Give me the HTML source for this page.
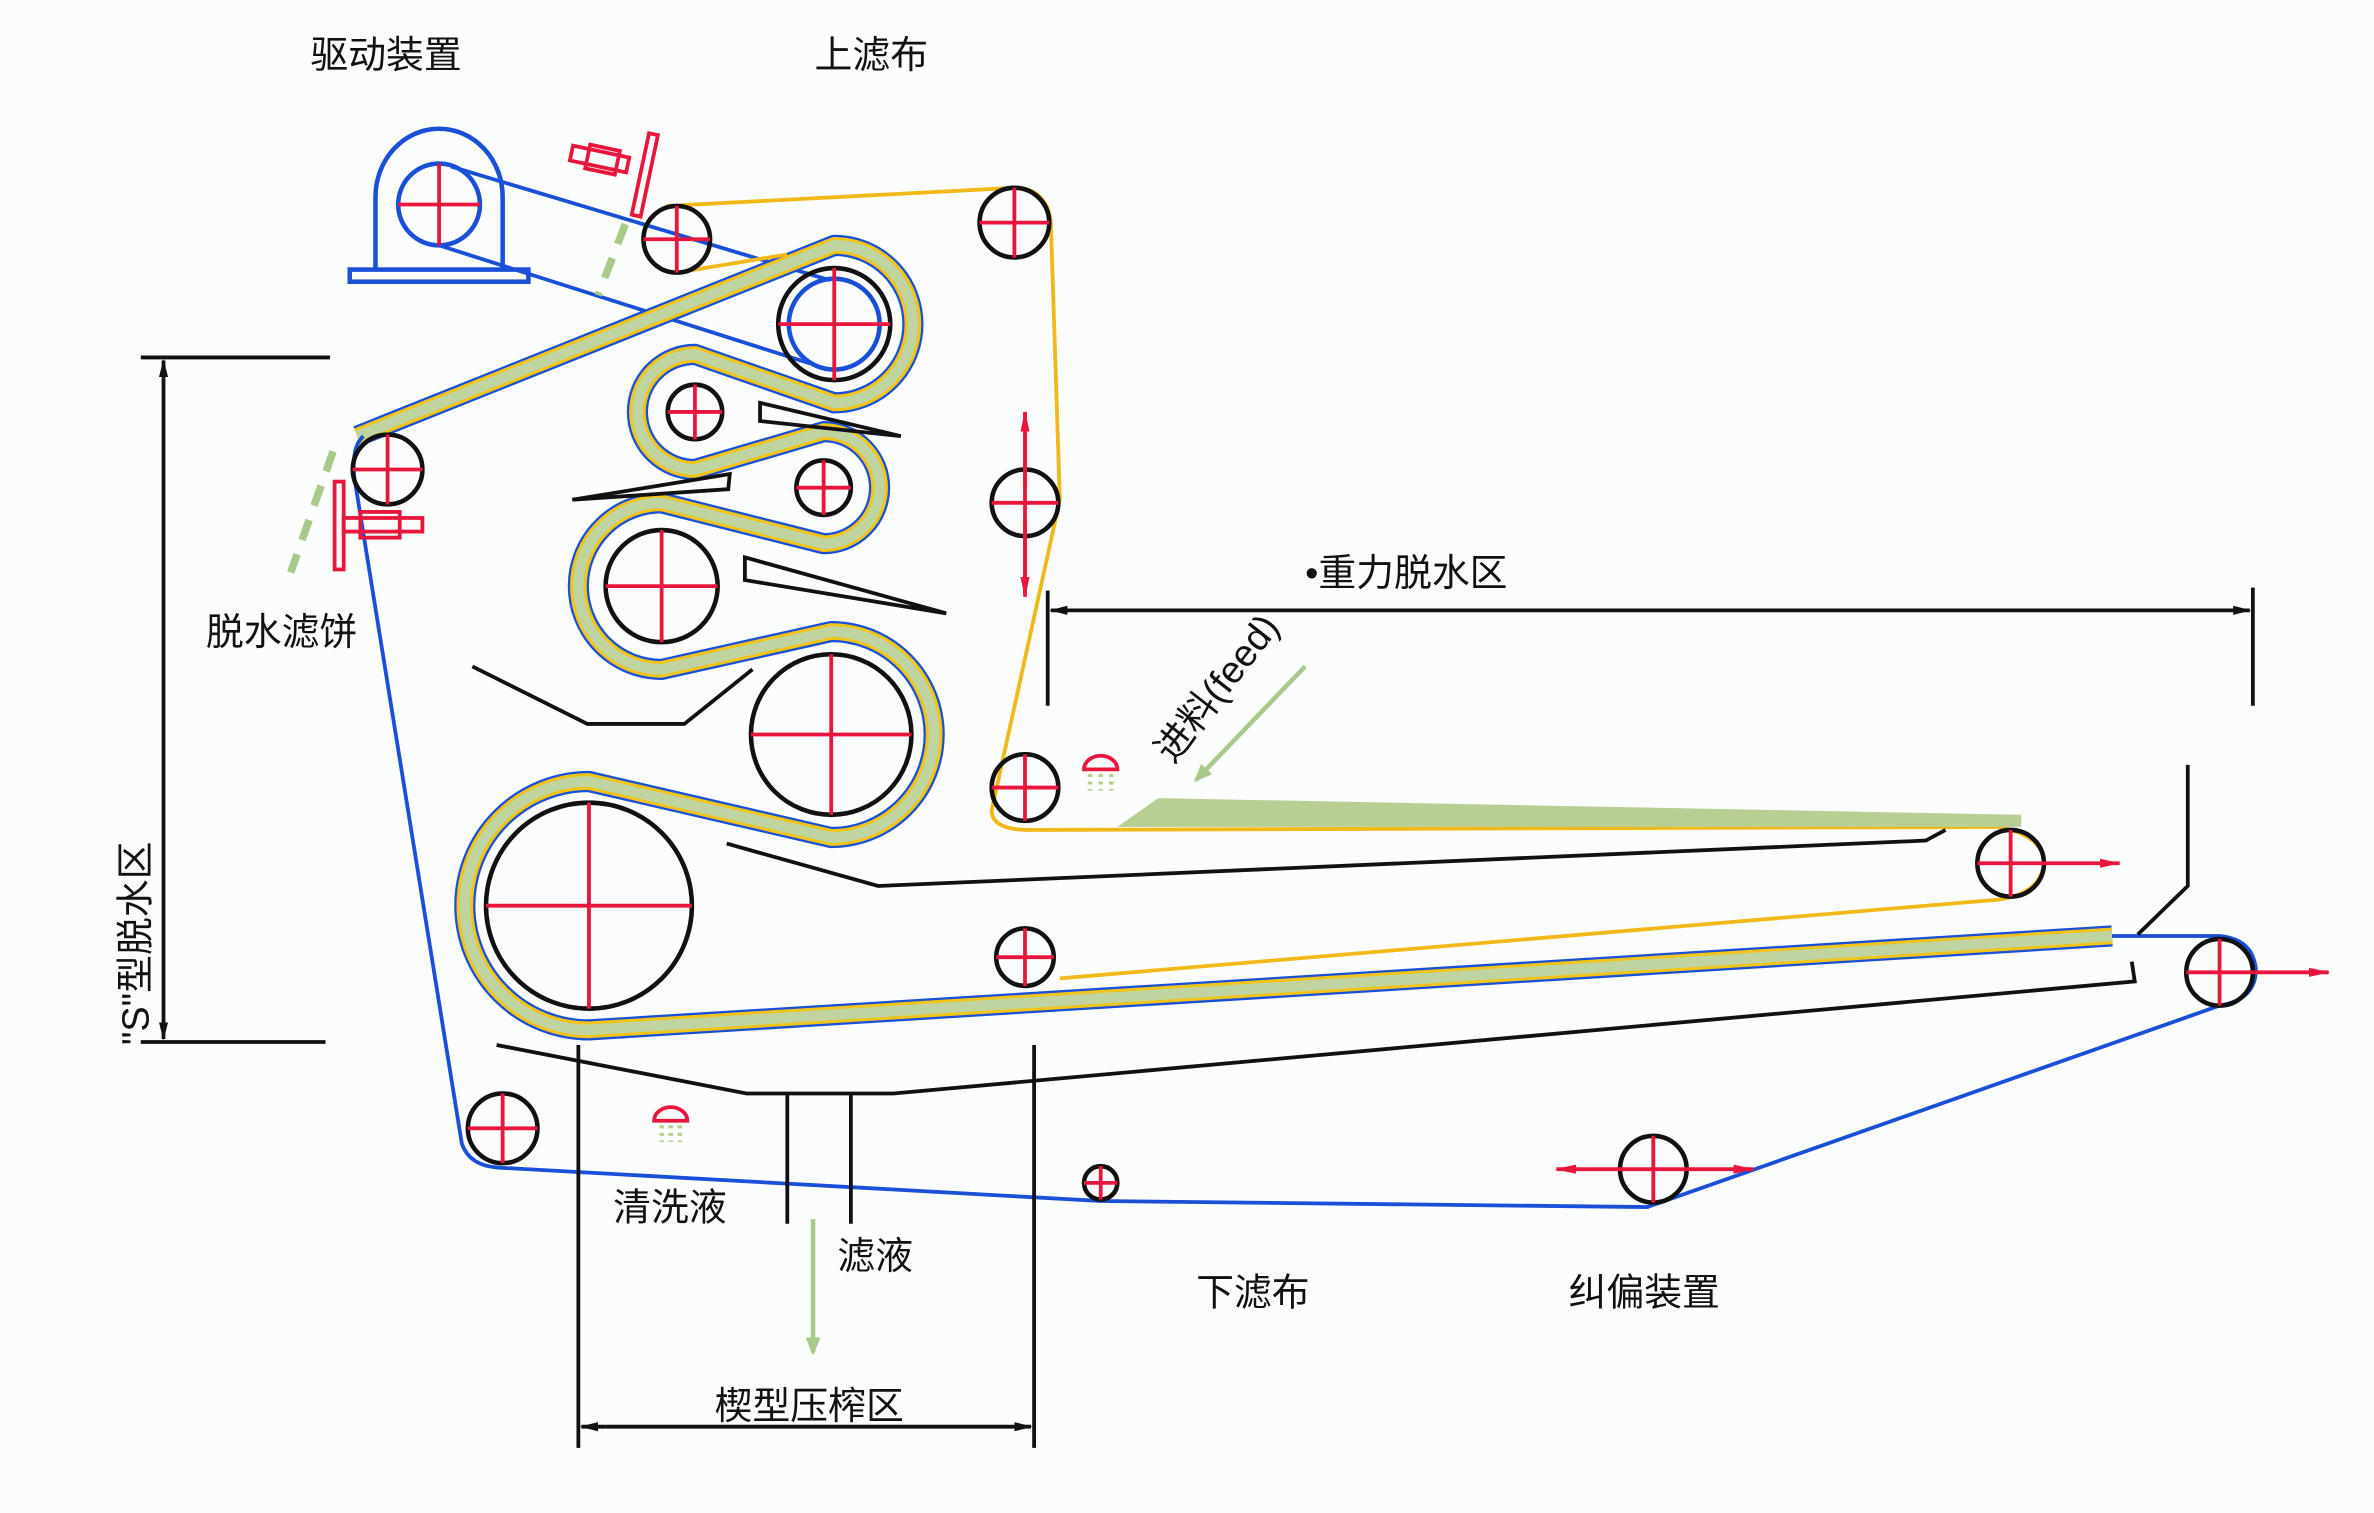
<!DOCTYPE html>
<html><head><meta charset="utf-8"><style>
html,body{margin:0;padding:0;background:#fbfcfc;}
svg{display:block}
text{font-family:"Liberation Sans","Noto Sans CJK SC","WenQuanYi Zen Hei",sans-serif;font-size:25px;fill:#111}
</style></head><body>
<svg width="2374" height="1513" viewBox="0 0 1568 999" preserveAspectRatio="none" xmlns="http://www.w3.org/2000/svg">
<defs>
<marker id="ab" markerWidth="12" markerHeight="8" refX="11" refY="4" orient="auto" markerUnits="userSpaceOnUse"><path d="M0,1 L12,4 L0,7 Z" fill="#111"/></marker>
<marker id="ar" markerWidth="14" markerHeight="8" refX="13" refY="4" orient="auto" markerUnits="userSpaceOnUse"><path d="M0,1 L14,4 L0,7 Z" fill="#e8163c"/></marker>
<marker id="ag" markerWidth="12" markerHeight="12" refX="10" refY="6" orient="auto" markerUnits="userSpaceOnUse"><path d="M0,1 L12,6 L0,11 Z" fill="#a9c98a"/></marker>
</defs>
<rect width="1568" height="999" fill="#fbfcfc"/>

<path d="M248,178 L248,130 A42,45 0 0 1 332,130 L332,178" fill="none" stroke="#1a4fd8" stroke-width="3"/>
<rect x="231" y="178" width="118" height="8" fill="none" stroke="#1a4fd8" stroke-width="3"/>
<circle cx="290" cy="135" r="27" fill="none" stroke="#1a4fd8" stroke-width="3"/>
<line x1="298" y1="110" x2="548" y2="185" stroke="#1a4fd8" stroke-width="2.5"/>
<line x1="290" y1="162" x2="535" y2="240" stroke="#1a4fd8" stroke-width="2.5"/>

<path d="M236,288 L551,162 A52,52 0 0 1 551,266 L459,234 A38,38 0 0 0 459,310 L544,285 A37,37 0 0 1 544,359 L437,332 A55,55 0 0 0 437,442 L549,417 A68,68 0 0 1 549,553 L389,516 A82,82 0 0 0 389,680 L1395,618" fill="none" stroke="#1a4fd8" stroke-width="14" stroke-linejoin="round"/>
<path d="M236,288 L551,162 A52,52 0 0 1 551,266 L459,234 A38,38 0 0 0 459,310 L544,285 A37,37 0 0 1 544,359 L437,332 A55,55 0 0 0 437,442 L549,417 A68,68 0 0 1 549,553 L389,516 A82,82 0 0 0 389,680 L1395,618" fill="none" stroke="#f0c419" stroke-width="11" stroke-linejoin="round"/>
<path d="M236,288 L551,162 A52,52 0 0 1 551,266 L459,234 A38,38 0 0 0 459,310 L544,285 A37,37 0 0 1 544,359 L437,332 A55,55 0 0 0 437,442 L549,417 A68,68 0 0 1 549,553 L389,516 A82,82 0 0 0 389,680 L1395,618" fill="none" stroke="#bfd4a0" stroke-width="7" stroke-linejoin="round"/>

<path d="M440,136 L670,124 Q690,124 694,145 L700,330 L655,535 Q655,548 680,548 L1320,546 Q1350,552 1350,570 Q1348,590 1320,594 L700,646" fill="none" stroke="#f0b818" stroke-width="2.5"/>
<path d="M447,136 A22,22 0 0 0 447,180 L520,168" fill="none" stroke="#f0b818" stroke-width="2.5"/>
<path d="M738,546 L765,527 L1335,538 L1335,546 Z" fill="#b8cf94"/>

<path d="M240,288 Q232,295 234,315 L305,755 Q310,770 330,771 L727,793 L1088,797 L1466,664 Q1490,660 1490,640 Q1488,620 1466,618 L1395,618" fill="none" stroke="#1a4fd8" stroke-width="2.5"/>

<g fill="none" stroke="#111" stroke-width="2.5">
<polygon points="502,266 595,288 502,278"/>
<polygon points="378,330 482,313 481,323"/>
<polygon points="492,368 625,405 492,383"/>
<polyline points="312,440 388,478 452,478 497,442"/>
<polyline points="480,557 580,585 1272,555 1285,548"/>
<polyline points="328,690 493,722 590,722 1410,648 1408,635"/>
<polyline points="1445,505 1445,585 1412,617"/>
<line x1="520" y1="722" x2="520" y2="808"/>
<line x1="562" y1="722" x2="562" y2="808"/>
</g>

<g fill="none" stroke="#111" stroke-width="3">
<circle cx="447" cy="158" r="22"/>
<circle cx="670" cy="147" r="23"/>
<circle cx="551" cy="214" r="37"/>
<circle cx="459" cy="272" r="18"/>
<circle cx="544" cy="322" r="18"/>
<circle cx="677" cy="332" r="22"/>
<circle cx="256" cy="310" r="23"/>
<circle cx="437" cy="387" r="37"/>
<circle cx="549" cy="485" r="53"/>
<circle cx="389" cy="598" r="68"/>
<circle cx="677" cy="520" r="22"/>
<circle cx="1328" cy="570" r="22"/>
<circle cx="677" cy="632" r="19"/>
<circle cx="1466" cy="642" r="22"/>
<circle cx="332" cy="745" r="23"/>
<circle cx="727" cy="781" r="11"/>
<circle cx="1092" cy="772" r="22"/>
</g>
<circle cx="551" cy="214" r="30" fill="none" stroke="#1a4fd8" stroke-width="3"/>
<g stroke="#e8163c" stroke-width="2.5">
<path d="M263,135h54M290,108v54"/>
<path d="M425,158h44M447,136v44"/>
<path d="M647,147h46M670,124v46"/>
<path d="M514,214h74M551,177v74"/>
<path d="M441,272h36M459,254v36"/>
<path d="M526,322h36M544,304v36"/>
<path d="M655,332h44M677,272v120"/>
<path d="M233,310h46M256,287v46"/>
<path d="M400,387h74M437,350v74"/>
<path d="M496,485h106M549,432v106"/>
<path d="M321,598h136M389,530v136"/>
<path d="M655,520h44M677,498v44"/>
<path d="M1306,570h44M1328,548v44"/>
<path d="M658,632h38M677,613v38"/>
<path d="M1444,642h44M1466,620v44"/>
<path d="M309,745h46M332,722v46"/>
<path d="M716,781h22M727,770v22"/>
<path d="M1070,772h44M1092,750v44"/>
</g>
<g stroke="#e8163c" stroke-width="2.5" fill="none">
<line x1="677" y1="320" x2="677" y2="272" marker-end="url(#ar)"/>
<line x1="677" y1="345" x2="677" y2="394" marker-end="url(#ar)"/>
<line x1="1350" y1="570" x2="1400" y2="570" marker-end="url(#ar)"/>
<line x1="1488" y1="642" x2="1538" y2="642" marker-end="url(#ar)"/>
<line x1="1070" y1="772" x2="1028" y2="772" marker-end="url(#ar)"/>
<line x1="1114" y1="772" x2="1158" y2="772" marker-end="url(#ar)"/>
<rect x="423" y="88" width="6" height="55" transform="rotate(12 426 115)"/>
<rect x="377" y="100" width="38" height="10" transform="rotate(12 396 105)"/>
<rect x="388" y="97" width="20" height="16" transform="rotate(12 396 105)"/>
<rect x="221" y="318" width="6" height="58"/>
<rect x="227" y="342" width="52" height="9"/>
<rect x="238" y="338" width="26" height="17"/>
<path d="M716,508 A11,9 0 0 1 738,508 Z"/>
<path d="M432,740 A11,9 0 0 1 454,740 Z"/>
</g>
<g stroke="#b6cf8e" stroke-width="3" stroke-dasharray="2,3">
<line x1="720" y1="511" x2="720" y2="522"/><line x1="727" y1="511" x2="727" y2="522"/><line x1="734" y1="511" x2="734" y2="522"/>
<line x1="437" y1="743" x2="437" y2="754"/><line x1="443" y1="743" x2="443" y2="754"/><line x1="449" y1="743" x2="449" y2="754"/>
</g>
<g stroke="#a9c98a" stroke-width="5" stroke-dasharray="14,10">
<line x1="413" y1="148" x2="395" y2="195"/>
<line x1="220" y1="298" x2="192" y2="378"/>
</g>
<line x1="862" y1="440" x2="790" y2="515" stroke="#a9c98a" stroke-width="3" marker-end="url(#ag)"/>
<line x1="537" y1="805" x2="537" y2="893" stroke="#a9c98a" stroke-width="3" marker-end="url(#ag)"/>

<g stroke="#111" stroke-width="2.5" fill="none">
<line x1="93" y1="236" x2="218" y2="236"/>
<line x1="93" y1="688" x2="215" y2="688"/>
<line x1="108" y1="250" x2="108" y2="238" marker-end="url(#ab)"/>
<line x1="108" y1="250" x2="108" y2="686" marker-end="url(#ab)"/>
<line x1="692" y1="390" x2="692" y2="466"/>
<line x1="1488" y1="388" x2="1488" y2="466"/>
<line x1="710" y1="403" x2="694" y2="403" marker-end="url(#ab)"/>
<line x1="710" y1="403" x2="1486" y2="403" marker-end="url(#ab)"/>
<line x1="382" y1="690" x2="382" y2="956"/>
<line x1="683" y1="690" x2="683" y2="956"/>
<line x1="400" y1="942" x2="384" y2="942" marker-end="url(#ab)"/>
<line x1="400" y1="942" x2="681" y2="942" marker-end="url(#ab)"/>
</g>

<text x="205" y="45">驱动装置</text>
<text x="538" y="45">上滤布</text>
<text x="136" y="426">脱水滤饼</text>
<text x="862" y="387">•重力脱水区</text>
<text x="405" y="806">清洗液</text>
<text x="553" y="838">滤液</text>
<text x="790" y="862">下滤布</text>
<text x="1036" y="862">纠偏装置</text>
<text x="472" y="937">楔型压榨区</text>
<text transform="translate(98,690) rotate(-90)">"S"型脱水区</text>
<text transform="translate(775,505) rotate(-52)">进料(feed)</text>
</svg>
</body></html>
